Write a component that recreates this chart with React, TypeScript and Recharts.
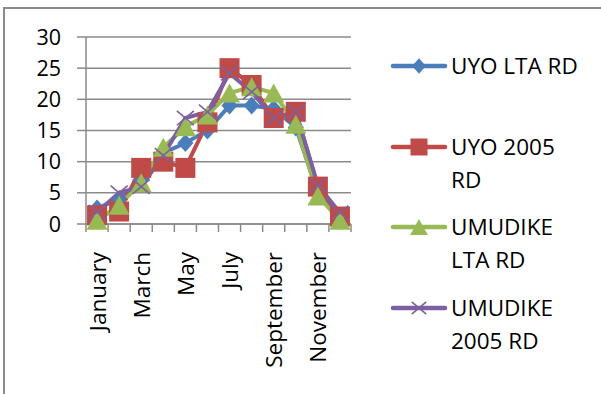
import React from 'react';
import { LineChart, Line, XAxis, YAxis, CartesianGrid, Legend } from 'recharts';

const months = ['January', 'February', 'March', 'April', 'May', 'June', 'July', 'August', 'September', 'October', 'November', 'December'];
const uyoLta = [2.5, 4, 7, 11.4, 13, 15, 19, 19, 18.5, 15.5, 5, 1];
const uyo2005 = [1.4, 2, 9, 10, 9, 16.3, 25, 22.3, 17, 18, 6, 1.2];
const umuLta = [0.6, 3, 6.6, 12.3, 15.6, 17.5, 21, 22, 21, 16, 4.5, 0.6];
const umu2005 = [1.9, 5, 6, 11, 17, 18, 24.2, 21.2, 17, 18, 6.2, 1.8];
const yTicks = [0, 5, 10, 15, 20, 25, 30];
const xTicks = [0, 1, 2, 3, 4, 5, 6, 7, 8, 9, 10, 11, 12];

const seriesNames = ['UYO LTA RD', 'UYO 2005 RD', 'UMUDIKE LTA RD', 'UMUDIKE 2005 RD'];
const legendLines = [['UYO LTA RD'], ['UYO 2005', 'RD'], ['UMUDIKE', 'LTA RD'], ['UMUDIKE', '2005 RD']];
const colors = ['#4A7EBB', '#BE4B48', '#98B954', '#7D60A0'];
const keys = ['uyoLta', 'uyo2005', 'umuLta', 'umu2005'];
const shapes = ['diamond', 'square', 'triangle', 'cross'];

const data = months.map((m, i) => ({
  month: m,
  pos: i + 0.5,
  uyoLta: uyoLta[i],
  uyo2005: uyo2005[i],
  umuLta: umuLta[i],
  umu2005: umu2005[i],
}));

const GRAY = '#8a8a8a';

function Marker({ shape, cx, cy, color, s = 1 }: any) {
  if (cx == null || cy == null) return null;
  if (shape === 'diamond') {
    const r = 9 * s;
    return <polygon points={`${cx},${cy - r} ${cx + r * 0.9},${cy} ${cx},${cy + r} ${cx - r * 0.9},${cy}`} fill={color} />;
  }
  if (shape === 'square') {
    const r = 10 * s;
    return <rect x={cx - r} y={cy - r} width={2 * r} height={2 * r} fill={color} />;
  }
  if (shape === 'triangle') {
    const w = 10.5 * s;
    const h = 9.5 * s;
    return <polygon points={`${cx},${cy - h} ${cx + w},${cy + h} ${cx - w},${cy + h}`} fill={color} />;
  }
  const r = 8.5 * s;
  return (
    <g stroke={color} strokeWidth={1.6}>
      <line x1={cx - r} y1={cy - r * 0.85} x2={cx + r} y2={cy + r * 0.85} />
      <line x1={cx - r} y1={cy + r * 0.85} x2={cx + r} y2={cy - r * 0.85} />
    </g>
  );
}

function MonthTick(props: any) {
  const { x, y, payload, width } = props;
  const v = payload.value;
  if (v % 2 !== 0 || v >= 12) return <g />;
  const half = (typeof width === 'number' && width > 0 ? width : 265) / 24;
  const tx = x + half;
  return (
    <text
      x={tx}
      y={y}
      transform={`rotate(-90, ${tx}, ${y})`}
      textAnchor="end"
      dominantBaseline="central"
      fill="#000"
      fontSize={22.5}
      fontFamily="Open Sans"
    >
      {months[v]}
    </text>
  );
}

function renderLegend() {
  return (
    <div style={{ fontFamily: 'Open Sans', fontSize: 22.5, color: '#000' }}>
      {seriesNames.map((n, i) => (
        <div key={n} style={{ height: 80.7, position: 'relative' }}>
          <svg width={62} height={34} style={{ position: 'absolute', left: 0, top: 0 }}>
            <line x1={6} y1={17} x2={58} y2={17} stroke={colors[i]} strokeWidth={4.5} strokeLinecap="round" />
            <Marker shape={shapes[i]} cx={32} cy={17} color={colors[i]} s={0.85} />
          </svg>
          <div style={{ position: 'absolute', left: 64, top: 0, lineHeight: '33px', whiteSpace: 'nowrap' }}>
            {legendLines[i].map((l) => (
              <div key={l}>{l}</div>
            ))}
          </div>
        </div>
      ))}
    </div>
  );
}

export default function App() {
  return (
    <div style={{ position: 'absolute', left: 0, top: 0, width: 601, height: 394, background: '#fff', overflow: 'hidden' }}>
      <div
        style={{
          position: 'absolute',
          left: 3,
          top: 7,
          width: 700,
          height: 500,
          borderTop: `2px solid ${GRAY}`,
          borderLeft: `2px solid ${GRAY}`,
        }}
      />
      <div style={{ position: 'absolute', left: 0, top: 0 }}>
        <LineChart
          width={601}
          height={394}
          data={data}
          margin={{ top: 37, right: 250, bottom: 70, left: 0 }}
          style={{ fontFamily: 'Open Sans' }}
        >
          <CartesianGrid vertical={false} stroke={GRAY} strokeWidth={1.5} />
          <XAxis
            type="number"
            dataKey="pos"
            domain={[0, 12]}
            ticks={xTicks}
            interval={0}
            allowDataOverflow
            height={100}
            tickSize={8}
            tickMargin={20}
            axisLine={{ stroke: GRAY, strokeWidth: 1.5 }}
            tickLine={{ stroke: GRAY, strokeWidth: 1.5 }}
            tick={<MonthTick />}
          />
          <YAxis
            type="number"
            domain={[0, 30]}
            ticks={yTicks}
            interval={0}
            width={86}
            tickSize={9}
            tickMargin={16}
            axisLine={{ stroke: GRAY, strokeWidth: 1.5 }}
            tickLine={{ stroke: GRAY, strokeWidth: 1.5 }}
            tick={{ fill: '#000', fontSize: 21.5, fontFamily: 'Open Sans' }}
          />
          <Legend
            layout="vertical"
            align="center"
            verticalAlign="middle"
            content={renderLegend}
            wrapperStyle={{ position: 'absolute', left: 387, top: 49, width: 214 }}
          />
          {keys.map((k, i) => (
            <Line
              key={k}
              type="linear"
              dataKey={k}
              name={seriesNames[i]}
              stroke={colors[i]}
              strokeWidth={4}
              isAnimationActive={false}
              dot={(p: any) => <Marker key={`${k}-${p.index}`} shape={shapes[i]} cx={p.cx} cy={p.cy} color={colors[i]} />}
              activeDot={false}
            />
          ))}
        </LineChart>
      </div>
    </div>
  );
}
